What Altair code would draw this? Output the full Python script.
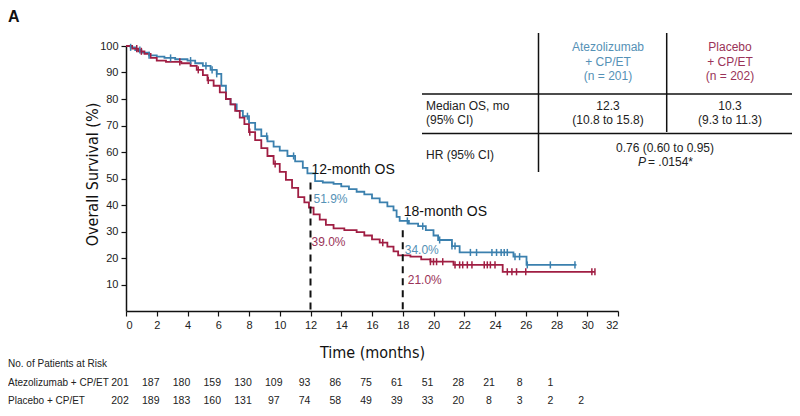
import altair as alt
import pandas as pd

# ---------------- data ----------------
arms = ["Atezolizumab + CP/ET", "Placebo + CP/ET"]

blue_t = [0, 0.3, 0.6, 1.0, 1.5, 2.0, 2.5, 3.2, 4.0, 4.5, 5.0, 5.5, 5.9, 6.2, 6.5, 6.8,
          7.2, 7.6, 8.0, 8.4, 8.8, 9.2, 9.6, 10.0, 10.5, 11.0, 11.5, 11.8, 12.3, 12.8,
          13.5, 14.0, 14.5, 15.0, 15.5, 16.0, 16.5, 17.0, 17.4, 17.6, 17.8, 18.4, 19.0,
          19.5, 20.0, 20.3, 21.2, 21.7, 25.2, 26.05, 29.3]
blue_s = [100, 99.5, 98.5, 97.5, 96.5, 96.0, 95.5, 95.0, 94.5, 93.5, 92.5, 91.0, 89.5, 85.0,
          80.0, 78.0, 75.5, 73.5, 71.0, 68.5, 66.0, 64.0, 62.0, 60.5, 58.5, 56.5, 54.0, 51.9,
          49.0, 48.5, 48.0, 47.0, 46.0, 45.0, 44.0, 42.5, 41.0, 39.5, 38.0, 35.5, 34.0, 33.0,
          32.0, 30.5, 28.5, 26.8, 24.5, 22.1, 20.5, 17.4, 17.4]

red_t = [0, 0.4, 0.8, 1.2, 1.6, 2.0, 2.6, 3.6, 4.2, 4.6, 5.0, 5.3, 5.7, 6.1, 6.5, 6.8, 7.1,
         7.4, 7.7, 8.0, 8.4, 8.8, 9.2, 9.6, 10.0, 10.4, 10.8, 11.2, 11.6, 11.9, 12.2, 12.6,
         13.0, 13.5, 14.2, 15.0, 15.5, 16.0, 16.5, 17.0, 17.4, 17.7, 18.5, 19.2, 19.8, 21.3,
         24.5, 30.5]
red_s = [100, 99.0, 98.0, 97.0, 95.5, 94.5, 94.0, 93.5, 92.5, 91.0, 89.0, 87.0, 85.0, 82.5,
         80.0, 78.0, 75.5, 73.0, 70.5, 67.5, 64.5, 61.5, 58.5, 55.5, 52.5, 49.5, 46.5, 43.0,
         41.0, 39.0, 36.5, 34.5, 32.5, 31.2, 30.5, 29.8, 28.5, 27.0, 25.8, 24.3, 22.5, 21.0,
         20.5, 19.5, 18.6, 17.4, 14.8, 14.8]

blue_cens = [0.3, 0.9, 1.5, 2.9, 4.2, 5.2, 5.6, 5.9, 7.9, 9.15, 10.9, 18.3, 19.3, 20.4,
             21.2, 21.4, 22.4, 22.8, 23.8, 24.1, 24.4, 24.6, 24.8, 25.3, 25.6, 26.1, 27.6, 29.2]
red_cens = [0.7, 1.0, 3.5, 4.7, 5.35, 8.05, 9.7, 16.7, 19.8, 20.0, 20.2, 20.6, 21.4, 21.7,
            21.9, 22.2, 22.5, 23.3, 23.5, 23.7, 24.0, 24.8, 25.1, 25.4, 26.0, 30.3, 30.5]

landmark_months = [12, 18]
landmark_top = [48.5, 30.5]

risk_atezo = [201, 187, 180, 159, 130, 109, 93, 86, 75, 61, 51, 28, 21, 8, 1]
risk_placebo = [202, 189, 183, 160, 131, 97, 74, 58, 49, 39, 33, 20, 8, 3, 2, 2]

x_ticks = list(range(0, 33, 2))
y_ticks = list(range(10, 101, 10))

# ---------------- styling ----------------
BLUE = "#3b80ae"
RED = "#a01e43"
BLUE_T = "#5591b6"
RED_T = "#9a3358"
FONT = "Liberation Sans"
NARROW = "DejaVu Sans Condensed"
W, H = 492, 265


def step_value(ts, ss, c):
    v = ss[0]
    for t, s in zip(ts, ss):
        if t <= c:
            v = s
    return v


km = pd.DataFrame(
    [{"arm": arms[0], "t": t, "s": s} for t, s in zip(blue_t, blue_s)]
    + [{"arm": arms[1], "t": t, "s": s} for t, s in zip(red_t, red_s)]
)
cens = pd.DataFrame(
    [{"arm": arms[0], "t": c, "s": step_value(blue_t, blue_s, c)} for c in blue_cens]
    + [{"arm": arms[1], "t": c, "s": step_value(red_t, red_s, c)} for c in red_cens]
)
marks = pd.DataFrame({"t": landmark_months, "s": landmark_top, "bottom": [0, 0]})
risk_a = pd.DataFrame({"t": x_ticks[:len(risk_atezo)], "n": risk_atezo})
risk_p = pd.DataFrame({"t": x_ticks[:len(risk_placebo)], "n": risk_placebo})

xs = alt.Scale(domain=[0, 32], nice=False, zero=False)
ys = alt.Scale(domain=[0, 100], nice=False)
cs = alt.Scale(domain=arms, range=[BLUE, RED])

xaxis = alt.Axis(values=x_ticks, title="Time (months)", grid=False, tickSize=5,
                 labelPadding=3, labelFontSize=11, labelFont=FONT, labelColor="#222",
                 titleFont=NARROW, titleFontSize=16, titleFontWeight="normal",
                 titleColor="#111", titleY=41, titleBaseline="middle",
                 domainColor="#111", domainWidth=1.5, tickColor="#111", tickWidth=1.2)
yaxis = alt.Axis(values=y_ticks, title="Overall Survival (%)", grid=False, tickSize=5,
                 labelPadding=3, labelFontSize=11, labelFont=FONT, labelColor="#222",
                 titleFont=NARROW, titleFontSize=16, titleFontWeight="normal",
                 titleColor="#111", titleX=-34, titleY=128, titleBaseline="middle",
                 titleAngle=-90, titleAlign="center",
                 domainColor="#111", domainWidth=1.5, tickColor="#111", tickWidth=1.2)

X = alt.X("t:Q", scale=xs, axis=xaxis, title="Time (months)")
Y = alt.Y("s:Q", scale=ys, axis=yaxis, title="Overall Survival (%)")

lines = alt.Chart(km).mark_line(interpolate="step-after", strokeWidth=1.8).encode(
    x=X, y=Y,
    color=alt.Color("arm:N", scale=cs, legend=None),
)

censors = alt.Chart(cens).mark_point(shape="M0,-1V1", size=50, strokeWidth=1.5,
                                      filled=False, opacity=1).encode(
    x=X, y=Y,
    color=alt.Color("arm:N", scale=cs, legend=None),
)

rules = alt.Chart(marks).mark_rule(strokeDash=[7, 5], strokeWidth=2, color="#111").encode(
    x=X, y=Y, y2="bottom:Q",
)


def label(txt, month, ypix, color, size, dx):
    return alt.Chart(pd.DataFrame({"t": [month]})).mark_text(
        text=txt, align="left", baseline="middle", fontSize=size, font=FONT,
        color=color, dx=dx
    ).encode(x=X, y=alt.value(ypix))


def ptext(txt, xpix, ypix, color="#222", size=12, align="center", italic=False,
          weight="normal", baseline="middle"):
    return alt.Chart(pd.DataFrame({"v": [0]})).mark_text(
        text=txt, align=align, baseline=baseline, fontSize=size, font=FONT, color=color,
        fontStyle="italic" if italic else "normal", fontWeight=weight
    ).encode(x=alt.value(xpix), y=alt.value(ypix))


annots = [
    label("12-month OS", 12, 124, "#111", 14, 1),
    label("18-month OS", 18, 166, "#111", 14, 1),
    label("51.9%", 12, 153, BLUE_T, 12, 3),
    label("39.0%", 12, 196, RED_T, 12, 1),
    label("34.0%", 18, 204, BLUE_T, 12, 2),
    label("21.0%", 18, 234, RED_T, 12, 5),
]

risk_layers = [
    ptext("No. of Patients at Risk", -118, 318, size=10, align="left"),
    ptext("Atezolizumab + CP/ET", -118, 337, size=10, align="left"),
    ptext("Placebo + CP/ET", -118, 355, size=10, align="left"),
    alt.Chart(risk_a).mark_text(fontSize=10.5, font=FONT, color="#222", dx=-6,
                                baseline="middle").encode(
        x=X, y=alt.value(337), text="n:Q"),
    alt.Chart(risk_p).mark_text(fontSize=10.5, font=FONT, color="#222", dx=-6,
                                baseline="middle").encode(
        x=X, y=alt.value(355), text="n:Q"),
]


def seg(x1, x2, y1, y2):
    return alt.Chart(pd.DataFrame({"v": [0]})).mark_rule(color="#111", strokeWidth=1.5).encode(
        x=alt.value(x1), x2=alt.value(x2), y=alt.value(y1), y2=alt.value(y2))


table = [
    seg(412.5, 412.5, -13, 126),
    seg(540.7, 540.7, -13, 86),
    seg(296, 669, 48, 48),
    seg(296, 669, 87.5, 87.5),
    ptext("Atezolizumab", 482, 1, BLUE_T),
    ptext("+ CP/ET", 482, 16, BLUE_T),
    ptext("(n = 201)", 482, 30, BLUE_T),
    ptext("Placebo", 604, 1, RED_T),
    ptext("+ CP/ET", 604, 16, RED_T),
    ptext("(n = 202)", 604, 30, RED_T),
    ptext("Median OS, mo", 300, 60, align="left"),
    ptext("(95% CI)", 300, 74, align="left"),
    ptext("12.3", 482, 60),
    ptext("(10.8 to 15.8)", 482, 74),
    ptext("10.3", 604, 60),
    ptext("(9.3 to 11.3)", 604, 74),
    ptext("HR (95% CI)", 300, 109, align="left"),
    ptext("0.76 (0.60 to 0.95)", 539, 101.5),
    ptext("P", 512, 115.5, align="left", italic=True),
    ptext("= .0154*", 522, 115.5, align="left"),
    ptext("A", -118, -24, color="#111", size=16, align="left", weight="bold",
          baseline="alphabetic"),
]

chart = alt.layer(lines, censors, rules, *annots, *risk_layers, *table).properties(
    width=W, height=H,
    autosize=alt.AutoSizeParams(type="none"),
    padding={"left": 118, "top": 38, "right": 174, "bottom": 97},
).configure(font=FONT, background="white", view=alt.ViewConfig(stroke=None))

chart.save("out.html", embed_options={"renderer": "svg", "actions": False})
